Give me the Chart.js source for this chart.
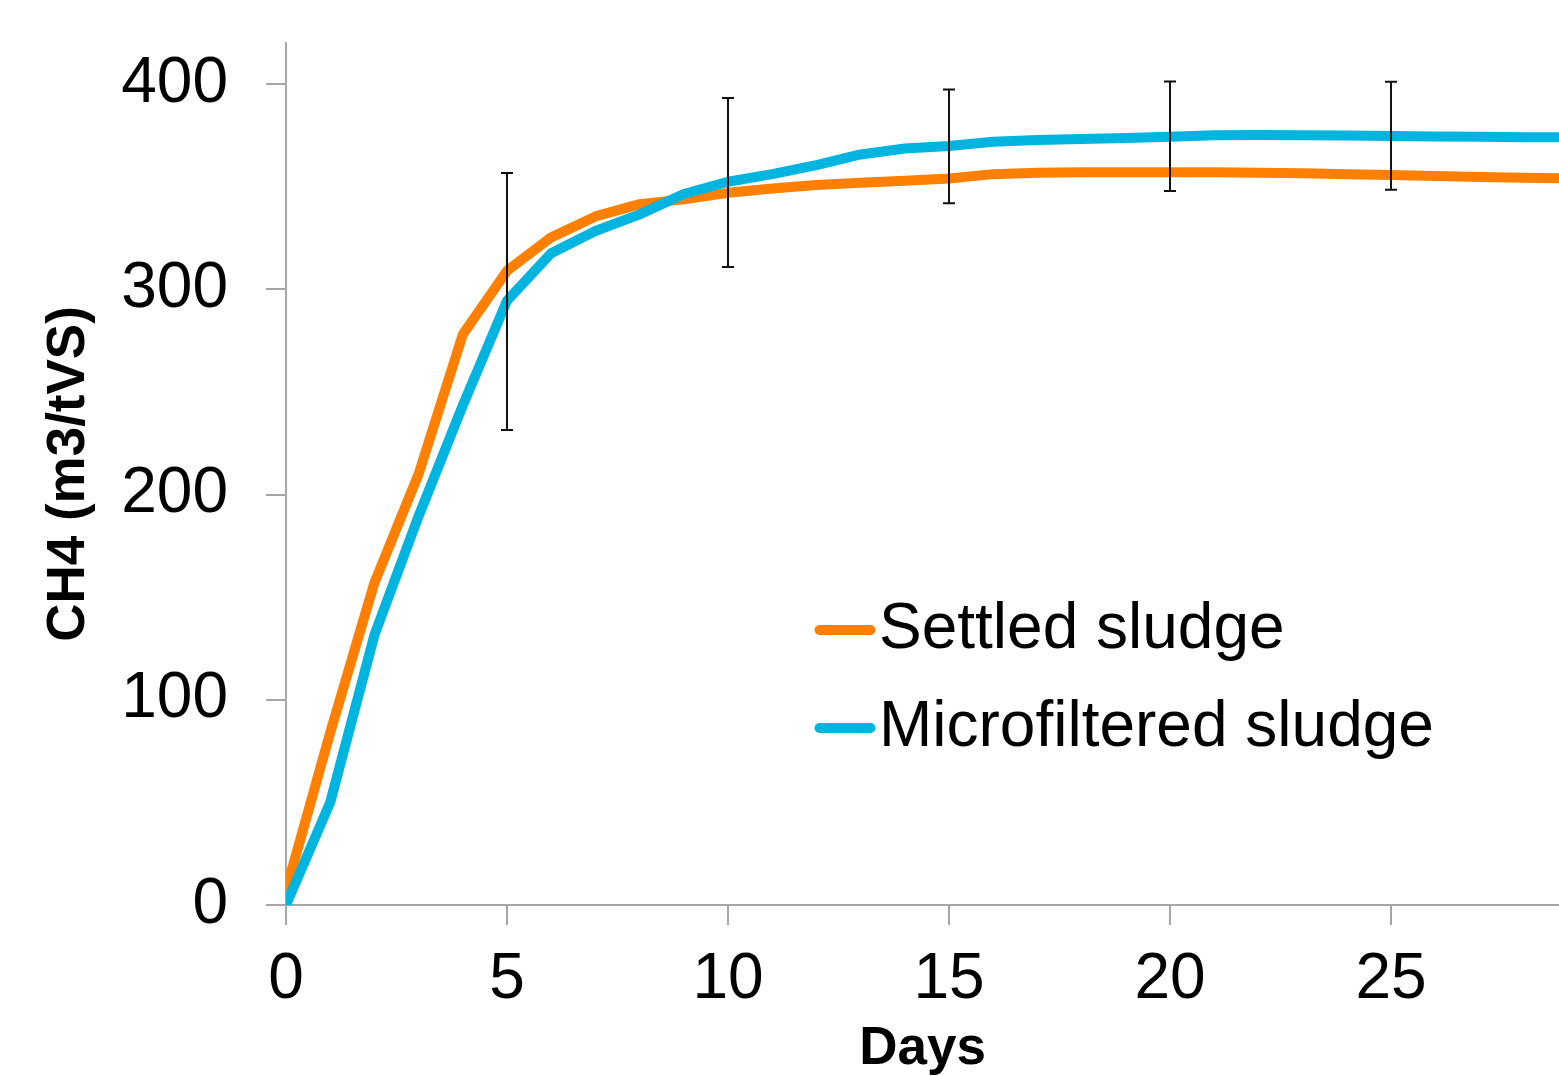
<!DOCTYPE html>
<html>
<head>
<meta charset="utf-8">
<script src="https://cdn.jsdelivr.net/npm/chart.js@4.4.1/dist/chart.umd.min.js"></script>
<style>
  html, body { margin: 0; padding: 0; background: #ffffff; }
  #wrap { width: 1559px; height: 1076px; }
</style>
</head>
<body>
<div id="wrap"><canvas id="c" width="1559" height="1076"></canvas></div>
<script>
// ---- data ----
const days = [0,1,2,3,4,5,6,7,8,9,10,11,12,13,14,15,16,17,18,19,20,21,22,23,24,25,26,27,28,29];
const settledSludge = [7,84,157,210,278,309,325.3,335.5,341.5,343.8,347,349.1,350.8,351.9,352.9,354,356.1,356.8,357,357,357,357,356.8,356.5,356.1,355.7,355.2,354.7,354.3,354];
const microfilteredSludge = [0,50,131.5,189.5,243.4,294.5,317.6,328.4,336.5,346.4,352.4,356.1,360.5,365.7,368.6,369.8,371.9,372.7,373.2,373.7,374.3,375.1,375.2,375.1,374.9,374.7,374.5,374.3,374.1,374];
const errorDays = [5,10,15,20,25];
const errorHigh = [356.6,393.2,397.4,401.3,401.1];
const errorLow = [231.4,310.8,341.9,347.9,348.5];
const seriesNames = ['Settled sludge','Microfiltered sludge'];
const xTicks = [0,5,10,15,20,25];
const yTicks = [0,100,200,300,400];
const xTitle = 'Days';
const yTitle = 'CH4 (m3/tVS)';

const ORANGE = '#ff8000';
const BLUE = '#00b4e0';
const AXIS = '#a6a6a6';
const FONT = '"Liberation Sans", Arial, sans-serif';

const toPoints = (xs, ys) => xs.map((x, i) => ({x: x, y: ys[i]}));

const errorBarPlugin = {
  id: 'errorBars',
  afterDatasetsDraw(chart) {
    const ctx = chart.ctx;
    const xs = chart.scales.x, ys = chart.scales.y;
    ctx.save();
    ctx.strokeStyle = '#111111';
    ctx.lineWidth = 2;
    errorDays.forEach((d, i) => {
      const x = Math.round(xs.getPixelForValue(d));
      const y1 = ys.getPixelForValue(errorHigh[i]);
      const y2 = ys.getPixelForValue(errorLow[i]);
      ctx.beginPath();
      ctx.moveTo(x, y1); ctx.lineTo(x, y2);
      ctx.moveTo(x - 6, y1); ctx.lineTo(x + 6, y1);
      ctx.moveTo(x - 6, y2); ctx.lineTo(x + 6, y2);
      ctx.stroke();
    });
    ctx.restore();
  }
};

const legendPlugin = {
  id: 'customLegend',
  afterDraw(chart) {
    const ctx = chart.ctx;
    const area = chart.chartArea;
    const colors = [ORANGE, BLUE];
    const x0 = area.left + 533.5;
    const rowY = [area.top + 587, area.top + 685];
    ctx.save();
    ctx.font = '64px ' + FONT;
    ctx.textBaseline = 'middle';
    ctx.textAlign = 'left';
    seriesNames.forEach((name, i) => {
      ctx.strokeStyle = colors[i];
      ctx.lineWidth = 10;
      ctx.lineCap = 'round';
      ctx.beginPath();
      ctx.moveTo(x0, rowY[i]);
      ctx.lineTo(x0 + 51, rowY[i]);
      ctx.stroke();
      ctx.fillStyle = '#000000';
      ctx.fillText(name, x0 + 59.5, rowY[i]);
    });
    ctx.restore();
  }
};

new Chart(document.getElementById('c'), {
  type: 'line',
  data: {
    datasets: [
      {
        label: seriesNames[0],
        data: toPoints(days, settledSludge),
        borderColor: ORANGE,
        backgroundColor: ORANGE,
        borderWidth: 10,
        pointRadius: 0,
        tension: 0,
        borderJoinStyle: 'round',
        order: 1
      },
      {
        label: seriesNames[1],
        data: toPoints(days, microfilteredSludge),
        borderColor: BLUE,
        backgroundColor: BLUE,
        borderWidth: 10,
        pointRadius: 0,
        tension: 0,
        borderJoinStyle: 'round',
        order: 0
      }
    ]
  },
  options: {
    responsive: false,
    animation: false,
    events: [],
    layout: { padding: { top: 43, right: 0, bottom: 0, left: 0 } },
    plugins: {
      legend: { display: false },
      tooltip: { enabled: false }
    },
    scales: {
      x: {
        type: 'linear',
        min: 0,
        max: 28.8,
        afterBuildTicks(scale) { scale.ticks = xTicks.map(v => ({value: v})); },
        afterFit(scale) { scale.height = 171; scale.paddingLeft = 0; scale.paddingRight = 0; },
        grid: {
          display: true,
          drawOnChartArea: false,
          drawTicks: true,
          tickLength: 20,
          color: AXIS,
          lineWidth: 2
        },
        border: { display: true, color: AXIS, width: 2 },
        ticks: {
          color: '#000000',
          font: { family: FONT, size: 64, lineHeight: 1.2 },
          padding: 17,
          maxRotation: 0,
          autoSkip: false
        },
        title: {
          display: true,
          text: xTitle,
          color: '#000000',
          font: { family: FONT, size: 53, weight: 'bold', lineHeight: 1 },
          padding: { top: 0, bottom: 0 }
        }
      },
      y: {
        type: 'linear',
        min: 0,
        max: 420,
        afterBuildTicks(scale) { scale.ticks = yTicks.map(v => ({value: v})); },
        afterFit(scale) { scale.width = 286; scale.paddingTop = 0; scale.paddingBottom = 0; },
        grid: {
          display: true,
          drawOnChartArea: false,
          drawTicks: true,
          tickLength: 20,
          color: AXIS,
          lineWidth: 2
        },
        border: { display: true, color: AXIS, width: 2 },
        ticks: {
          color: '#000000',
          font: { family: FONT, size: 64, lineHeight: 1.2 },
          padding: 38
        },
        title: {
          display: true,
          text: yTitle,
          color: '#000000',
          font: { family: FONT, size: 53, weight: 'bold', lineHeight: 1 },
          padding: { top: 43, bottom: 0 }
        }
      }
    }
  },
  plugins: [errorBarPlugin, legendPlugin]
});
</script>
</body>
</html>
